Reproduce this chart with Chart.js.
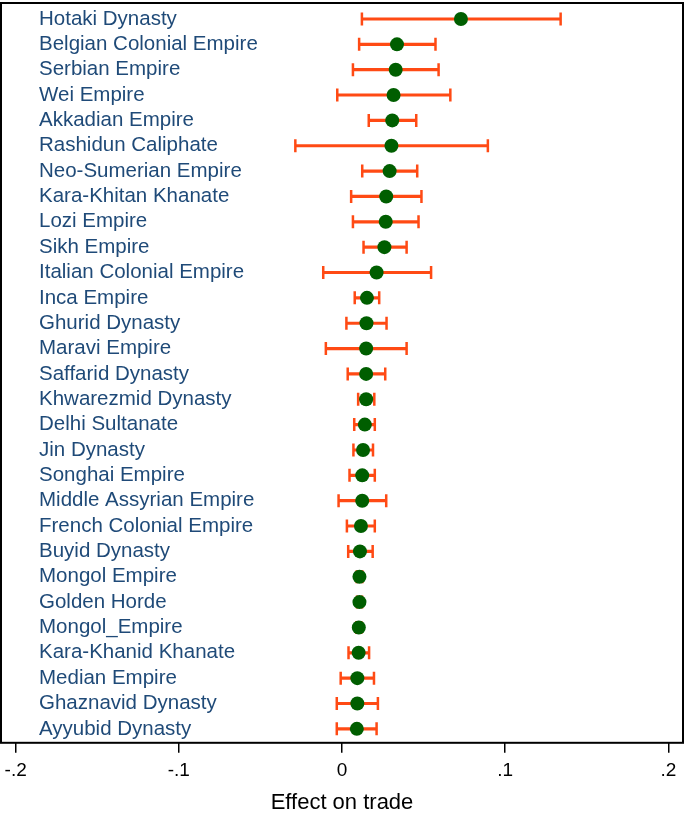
<!DOCTYPE html>
<html>
<head>
<meta charset="utf-8">
<script src="https://cdn.jsdelivr.net/npm/chart.js@4/dist/chart.umd.min.js"></script>
<style>
  html, body { margin: 0; padding: 0; background: #fff; }
  #chart { display: block; }
</style>
</head>
<body>
<canvas id="chart" width="685" height="819"></canvas>
<script>
const empires = [
  "Hotaki Dynasty", "Belgian Colonial Empire", "Serbian Empire", "Wei Empire",
  "Akkadian Empire", "Rashidun Caliphate", "Neo-Sumerian Empire", "Kara-Khitan Khanate",
  "Lozi Empire", "Sikh Empire", "Italian Colonial Empire", "Inca Empire",
  "Ghurid Dynasty", "Maravi Empire", "Saffarid Dynasty", "Khwarezmid Dynasty",
  "Delhi Sultanate", "Jin Dynasty", "Songhai Empire", "Middle Assyrian Empire",
  "French Colonial Empire", "Buyid Dynasty", "Mongol Empire", "Golden Horde",
  "Mongol_Empire", "Kara-Khanid Khanate", "Median Empire", "Ghaznavid Dynasty",
  "Ayyubid Dynasty",
];

// point estimates
const effect = [
  0.0729, 0.0337, 0.0329, 0.0316, 0.0308, 0.0303, 0.0292, 0.0271,
  0.0268, 0.0260, 0.0212, 0.0153, 0.0150, 0.0148, 0.0148, 0.0148,
  0.0140, 0.0129, 0.0124, 0.0124, 0.0116, 0.0110, 0.0107, 0.0107,
  0.0103, 0.0102, 0.0094, 0.0094, 0.0091,
];

// confidence interval bounds
const ciLow = [
  0.0122, 0.0105, 0.0067, -0.0029, 0.0164, -0.0286, 0.0124, 0.0056,
  0.0067, 0.0132, -0.0115, 0.0078, 0.0027, -0.0099, 0.0035, 0.0099,
  0.0075, 0.0070, 0.0046, -0.0021, 0.0030, 0.0038, 0.0090, 0.0092,
  0.0088, 0.0040, -0.0008, -0.0032, -0.0032,
];
const ciHigh = [
  0.1340, 0.0573, 0.0592, 0.0664, 0.0455, 0.0894, 0.0461, 0.0487,
  0.0469, 0.0396, 0.0546, 0.0228, 0.0273, 0.0396, 0.0265, 0.0198,
  0.0201, 0.0190, 0.0201, 0.0271, 0.0201, 0.0188, 0.0125, 0.0123,
  0.0118, 0.0166, 0.0196, 0.0220, 0.0212,
];

const xTicks = [-0.2, -0.1, 0, 0.1, 0.2];

const DOT = "#005e00";
const BAR = "#ff4a14";
const LABEL = "#1f4a78";
const FONT = "'Liberation Sans', Arial, sans-serif";

const fmtTick = (v) => {
  if (Math.abs(v) < 1e-9) return "0";
  return String(Math.round(v * 10) / 10).replace("0.", ".");
};

// box round the plot region
const framePlugin = {
  id: "frame",
  beforeDatasetsDraw(chart) {
    const { ctx, chartArea: a } = chart;
    ctx.save();
    ctx.strokeStyle = "#000";
    ctx.lineWidth = 2;
    ctx.strokeRect(a.left, a.top, a.right - a.left, a.bottom - a.top);
    ctx.restore();
  },
};

// row names sit inside the plot, left aligned
const rowLabels = {
  id: "rowLabels",
  afterDatasetsDraw(chart) {
    const { ctx, chartArea: a, scales } = chart;
    const y = scales.y;
    ctx.save();
    ctx.fillStyle = LABEL;
    ctx.font = `20.5px ${FONT}`;
    ctx.textAlign = "left";
    ctx.textBaseline = "middle";
    empires.forEach((name, i) => {
      ctx.fillText(name, a.left + 38, y.getPixelForValue(i));
    });
    ctx.restore();
  },
};

const capStyle = {
  pointStyle: "line",
  pointRotation: 90,
  pointRadius: 6.5,
  pointBorderColor: BAR,
  pointBorderWidth: 2.5,
};

const ctx = document.getElementById("chart").getContext("2d");
new Chart(ctx, {
  data: {
    datasets: [
      {
        type: "scatter",
        data: effect.map((v, i) => ({ x: v, y: i })),
        pointStyle: "circle",
        pointRadius: 7,
        pointBackgroundColor: DOT,
        pointBorderWidth: 0,
      },
      {
        type: "scatter",
        data: ciLow.map((v, i) => ({ x: v, y: i })),
        ...capStyle,
      },
      {
        type: "scatter",
        data: ciHigh.map((v, i) => ({ x: v, y: i })),
        ...capStyle,
      },
      {
        type: "bar",
        indexAxis: "y",
        data: empires.map((e, i) => ({ x: [ciLow[i], ciHigh[i]], y: i })),
        backgroundColor: BAR,
        borderWidth: 0,
        barThickness: 2.5,
      },
    ],
  },
  options: {
    responsive: false,
    animation: false,
    events: [],
    layout: { autoPadding: false, padding: { left: 1, right: 2, top: 3, bottom: 3 } },
    plugins: {
      legend: { display: false },
      tooltip: { enabled: false },
    },
    scales: {
      x: {
        type: "linear",
        position: "bottom",
        min: -0.209,
        max: 0.209,
        offset: false,
        afterBuildTicks: (axis) => {
          axis.ticks = xTicks.map((v) => ({ value: v }));
        },
        // edge tick labels may hang past the frame
        afterFit: (axis) => {
          axis.paddingLeft = 0;
          axis.paddingRight = 0;
        },
        border: { display: false },
        grid: {
          drawOnChartArea: false,
          drawTicks: true,
          tickLength: 10,
          color: "#000",
          lineWidth: 1.5,
        },
        ticks: {
          color: "#000",
          padding: 7,
          maxRotation: 0,
          font: { family: FONT, size: 19 },
          callback: (v) => fmtTick(v),
        },
        title: {
          display: true,
          text: "Effect on trade",
          color: "#000",
          padding: { top: 0, bottom: 0 },
          font: { family: FONT, size: 22 },
        },
      },
      y: {
        type: "linear",
        reverse: true,
        offset: false,
        min: -0.63,
        max: 28.55,
        display: false,
      },
    },
  },
  plugins: [framePlugin, rowLabels],
});
</script>
</body>
</html>
